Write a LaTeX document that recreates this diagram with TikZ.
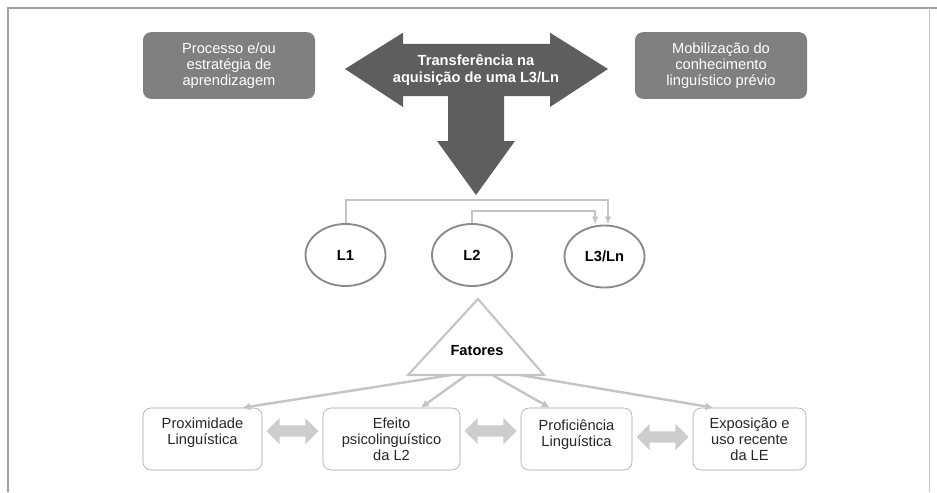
\documentclass[tikz,border=0pt]{standalone}
\usepackage{fontspec}
\setmainfont{Liberation Sans}
\usetikzlibrary{positioning,calc,arrows.meta,shapes.geometric,shapes.arrows}

\definecolor{boxgray}{HTML}{808080}
\definecolor{arrowgray}{HTML}{5E5E5E}
\definecolor{linkgray}{HTML}{C4C4C4}
\definecolor{edgegray}{HTML}{8A8A8A}
\definecolor{framegray}{HTML}{A0A0A0}

\tikzset{
  topbox/.style={draw=none, fill=boxgray, rounded corners=6pt, text=white,
    minimum width=129pt, minimum height=50pt, align=center,
    font=\fontsize{11}{12}\selectfont},
  lang/.style={ellipse, draw=edgegray, line width=1.4pt, minimum width=60pt,
    minimum height=46.5pt, font=\fontsize{11}{12}\selectfont\bfseries},
  factor/.style={draw=framegray, rounded corners=6pt, minimum height=46.5pt,
    align=center, text=black!85, font=\fontsize{11}{12}\selectfont},
  link/.style={draw=linkgray, line width=1.5pt, -{Latex[length=6pt,width=5pt]}},
  fan/.style={draw=linkgray, line width=1.8pt, -{Latex[length=6pt,width=6pt]}},
  dbl/.style={double arrow, fill=linkgray!85, draw=none, inner sep=4.1pt,
    minimum height=39pt, double arrow head extend=5.6pt}
}

\begin{document}
\begin{tikzpicture}[x=0.75pt,y=-0.75pt]
  \useasboundingbox (0,0) rectangle (937,492);
  \draw[framegray, line width=1pt] (8,492) -- (8,8) -- (937,8);
  \draw[framegray!60, line width=0.6pt] (929,8) -- (929,492);

  % upper part
  \node[topbox] (proc) at (229,65.5) {Processo e/ou\\estratégia de\\aprendizagem};
  \node[topbox] (mobi) at (721,65.5) {Mobilização do\\conhecimento\\linguístico prévio};
  \fill[arrowgray] (345,69) -- (403,32.7) -- (403,44) -- (550,44) -- (550,32.7)
    -- (608,69) -- (550,107) -- (550,96) -- (504,96) -- (504,141) -- (515,141)
    -- (476,195) -- (437,141) -- (448,141) -- (448,96) -- (403,96) -- (403,107) -- cycle;
  \node[text=white, align=center, font=\fontsize{11}{13}\selectfont\bfseries] (transf) at (476,70)
    {Transferência na\\aquisição de uma L3/Ln};

  % languages
  \node[lang] (L1) at (345.5,255) {L1};
  \node[lang] (L2) at (472,255) {L2};
  \node[lang] (L3) at (604.5,256.5) {L3/Ln};
  \draw[link] (L1.north) -- ++(0,-23) -| ([xshift=2.6pt]L3.north);
  \draw[link] (L2.north) -- ++(0,-12) -| ([xshift=-7pt]L3.north);

  % factors
  \coordinate (tA) at (478,299);
  \coordinate (tL) at (408,375);
  \coordinate (tR) at (544,375);
  \draw[linkgray, line width=1.6pt, line join=miter] (tA) -- (tR) -- (tL) -- cycle;
  \node[font=\fontsize{11}{12}\selectfont\bfseries] (fat) at (477,351) {Fatores};

  \node[factor, minimum width=89.25pt, text depth=11pt] (px1) at (202.5,439) {Proximidade\\Linguística};
  \node[factor, minimum width=102.75pt] (px2) at (391.5,439) {Efeito\\psicolinguístico\\da L2};
  \node[factor, minimum width=83.25pt, text depth=9pt] (px3) at (576.5,439) {Proficiência\\Linguística};
  \node[factor, minimum width=84.75pt] (px4) at (749.5,439) {Exposição e\\uso recente\\da LE};

  \foreach \t/\b/\s in {0.32/px1/30pt, 0.43/px2/22pt, 0.62/px3/-20pt, 0.82/px4/-27pt}
    \draw[fan] ($(tL)!\t!(tR)$) -- ([xshift=\s]\b.north);

  \node[dbl, yshift=6pt] (d12) at ($(px1.east)!0.5!(px2.west)$) {};
  \node[dbl, yshift=6pt] (d23) at ($(px2.east)!0.5!(px3.west)$) {};
  \node[dbl, yshift=1.5pt] (d34) at ($(px3.east)!0.5!(px4.west)$) {};
\end{tikzpicture}
\end{document}
